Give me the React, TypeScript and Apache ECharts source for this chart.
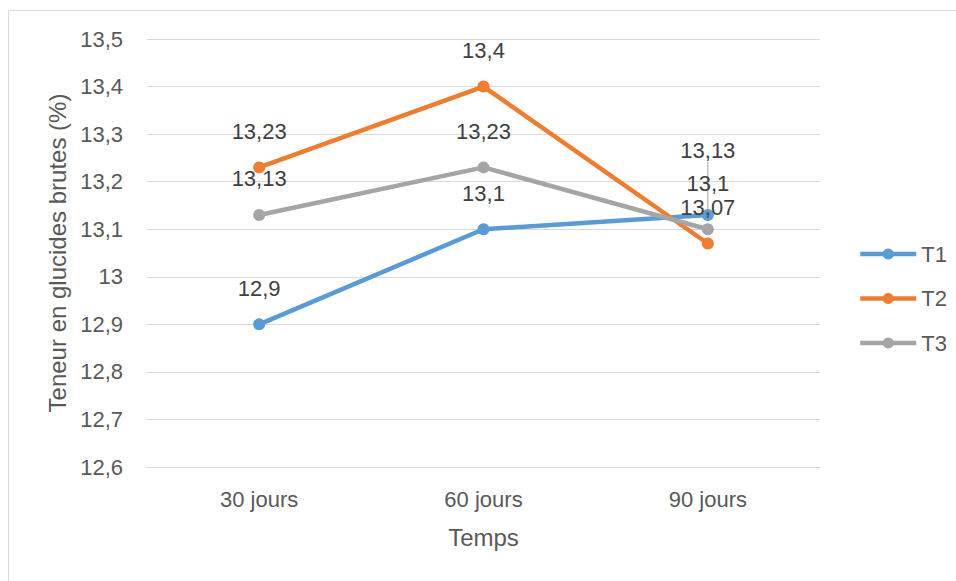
import React, { useEffect, useRef } from "react";
import * as echarts from "echarts";

const categories = ["30 jours", "60 jours", "90 jours"];
const seriesNames = ["T1", "T2", "T3"];
const t1Values = [12.9, 13.1, 13.13];
const t2Values = [13.23, 13.4, 13.07];
const t3Values = [13.13, 13.23, 13.1];
const colors = ["#5b9bd5", "#ed7d31", "#a5a5a5"];
const yTicks = { min: 12.6, max: 13.5, interval: 0.1 };

const FONT = "'Liberation Sans', Arial, sans-serif";
const fmt = (v: number) => String(Math.round(v * 100) / 100).replace(".", ",");

export default function App() {
  const ref = useRef<HTMLDivElement>(null);
  useEffect(() => {
    if (!ref.current) return;
    const chart = echarts.init(ref.current, undefined, { renderer: "svg" });
    const mk = (
      name: string,
      values: number[],
      color: string,
      guideIndex = -1,
      layout?: any
    ) => ({
      name,
      type: "line",
      data: values.map((v, i) =>
        i === guideIndex
          ? { value: v, labelLine: { show: true, lineStyle: { color: "#a6a6a6", width: 1 } } }
          : { value: v }
      ),
      symbol: "circle",
      symbolSize: 12,
      color,
      lineStyle: { width: 4.5, color },
      itemStyle: { color },
      label: {
        show: true,
        position: "top",
        distance: 19,
        color: "#404040",
        fontFamily: FONT,
        fontSize: 22,
        formatter: (p: any) => fmt(p.value),
      },
      labelLine: { show: false },
      labelLayout: layout,
    });
    chart.setOption({
      animation: false,
      backgroundColor: "#ffffff",
      textStyle: { fontFamily: FONT },
      graphic: [
        {
          type: "rect",
          shape: { x: 8.5, y: 10.5, width: 1000, height: 1000 },
          style: { fill: "none", stroke: "#d9d9d9", lineWidth: 1 },
          silent: true,
          z: -10,
        },
      ],
      grid: { left: 147, right: 136, top: 39, bottom: 114 },
      legend: {
        orient: "vertical",
        left: 853,
        top: 238,
        itemGap: 22.5,
        itemWidth: 56,
        itemHeight: 14,
        data: seriesNames,
        lineStyle: { width: 4.5 },
        itemStyle: { borderWidth: 0 },
        textStyle: { color: "#595959", fontSize: 22, fontFamily: FONT },
      },
      xAxis: {
        type: "category",
        data: categories,
        name: "Temps",
        nameLocation: "middle",
        nameGap: 58,
        nameTextStyle: { color: "#595959", fontSize: 24, fontFamily: FONT },
        axisLine: { show: true, lineStyle: { color: "#d9d9d9" } },
        axisTick: { show: false },
        axisLabel: { color: "#595959", fontSize: 22, margin: 21, fontFamily: FONT },
      },
      yAxis: {
        type: "value",
        min: yTicks.min,
        max: yTicks.max,
        interval: yTicks.interval,
        name: "Teneur en glucides brutes (%)",
        nameLocation: "middle",
        nameGap: 75,
        nameTextStyle: { color: "#595959", fontSize: 24, fontFamily: FONT },
        axisLine: { show: false },
        axisTick: { show: false },
        splitLine: { lineStyle: { color: "#d9d9d9", width: 1 } },
        axisLabel: {
          color: "#595959",
          fontSize: 22,
          margin: 24,
          fontFamily: FONT,
          formatter: (v: number) => fmt(v),
        },
      },
      series: [
        mk(seriesNames[0], t1Values, colors[0], 2, (p: any) =>
          p.dataIndex === 2 ? { dy: -28 } : {}
        ),
        mk(seriesNames[1], t2Values, colors[1]),
        mk(seriesNames[2], t3Values, colors[2], -1, (p: any) =>
          p.dataIndex === 2 ? { dy: -10 } : {}
        ),
      ],
    });
    return () => chart.dispose();
  }, []);
  return (
    <div
      ref={ref}
      style={{ position: "absolute", left: 0, top: 0, width: 956, height: 581 }}
    />
  );
}
